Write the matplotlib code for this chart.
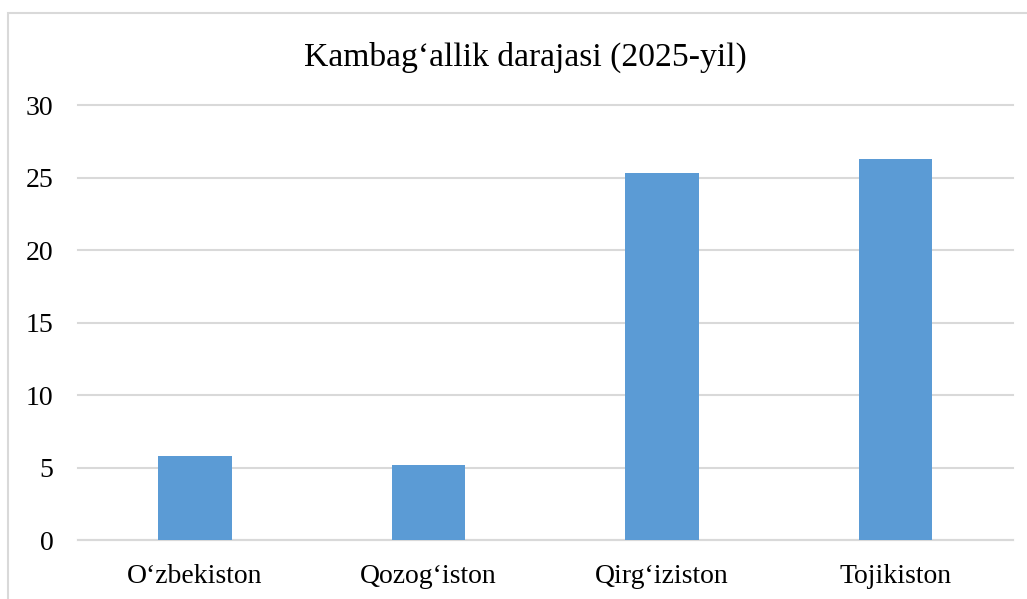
import numpy as np
import matplotlib.pyplot as plt
from matplotlib.patches import Rectangle

# kambag'allik darajasi, foizda
countries = ["O\u2018zbekiston", "Qozog\u2018iston", "Qirg\u2018iziston", "Tojikiston"]
poverty = [5.8, 5.2, 25.3, 26.3]
yticks = [0, 5, 10, 15, 20, 25, 30]

plt.rcParams['font.family'] = ['Liberation Serif', 'DejaVu Serif']

fig = plt.figure(figsize=(10.27, 5.99), dpi=100)
ax = fig.add_axes([0.0759, 0.0977, 0.9100, 0.7270])

x = np.arange(len(countries))
ax.bar(x, poverty, width=0.315, color="#5B9BD5", zorder=3)

ax.set_xlim(-0.5, len(countries) - 0.5)
ax.set_ylim(0, 30)
ax.set_yticks(yticks)
ax.set_xticks(x)
ax.set_xticklabels(countries)
ax.yaxis.grid(True, color="#D9D9D9", linewidth=1.5, zorder=0)
for gl in ax.get_ygridlines():
    gl.set_clip_on(False)
ax.tick_params(axis="both", length=0, labelsize=20, colors="black")
ax.tick_params(axis="y", pad=17.5)
ax.tick_params(axis="x", pad=17)
for s in ["top", "right", "left"]:
    ax.spines[s].set_visible(False)
ax.spines["bottom"].set_color("#D9D9D9")
ax.spines["bottom"].set_linewidth(1.5)

fig.text(525.5 / 1027, 1 - 57 / 599, "Kambag\u2018allik darajasi (2025-yil)",
         ha="center", va="center", fontsize=24.2)

# chart border (cut off at right and bottom)
fig.patches.append(Rectangle((8 / 1027, -0.1), 1.2, 1 - 12.5 / 599 + 0.1,
                             transform=fig.transFigure, fill=False,
                             edgecolor="#D9D9D9", linewidth=1.5))

fig.savefig("out.png", dpi=100)
